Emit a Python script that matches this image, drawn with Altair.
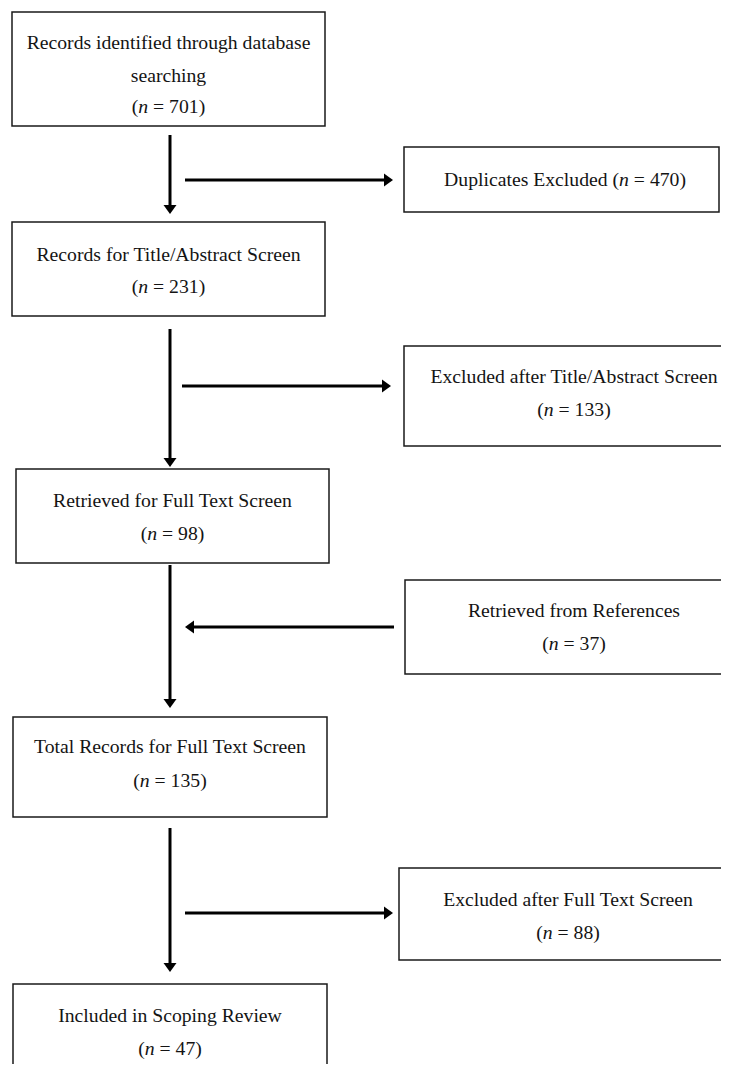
import altair as alt
import pandas as pd

# ---------------- data ----------------
left_titles = [
    ["Records identified through database", "searching"],
    ["Records for Title/Abstract Screen"],
    ["Retrieved for Full Text Screen"],
    ["Total Records for Full Text Screen"],
    ["Included in Scoping Review"],
]
left_counts = [701, 231, 98, 135, 47]

side_titles = [
    "Duplicates Excluded",
    "Excluded after Title/Abstract Screen",
    "Retrieved from References",
    "Excluded after Full Text Screen",
]
side_counts = [470, 133, 37, 88]

# ---------------- layout (reference pixel units) ----------------
left_box_x = [(12, 325), (12, 325), (16, 329), (13, 327), (13, 327)]
left_box_y = [(12, 126), (222, 316), (469, 563), (717, 817), (984, 1080)]
left_line_y = [[43, 76, 107], [255, 287], [501, 534], [747, 781], [1016, 1049]]

side_box_x = [(404, 719), (404, 745), (405, 745), (399, 745)]
side_box_y = [(147, 212), (346, 446), (580, 674), (868, 960)]
side_line_y = [[180], [377, 410], [611, 644], [900, 933]]
side_cx = [565, 574, 574, 568]

v_arrows = [(170, 135, 214), (170, 329, 467), (170, 565, 708), (170, 828, 972)]
h_arrows = [(180, 185, 393), (386, 182, 391), (627, 394, 185), (913, 185, 393)]

FONT = "Liberation Serif"
FS = 19.7
HEAD_LEN = 9
HEAD_W = 13

# Times-compatible advance widths (per 1000 em)
CW = {"(": 333, ")": 333, " ": 250, "=": 564, "D": 722, "u": 500, "p": 500,
      "l": 278, "i": 278, "c": 444, "a": 444, "t": 278, "e": 444, "s": 389,
      "E": 611, "x": 500, "d": 500, "n": 500}


def tw(s):
    return sum(CW.get(c, 500) for c in s) * FS / 1000.0


# ---------------- build tables ----------------
boxes = []
for (x0, x1), (y0, y1) in zip(left_box_x + side_box_x, left_box_y + side_box_y):
    boxes.append({"x": x0, "x2": x1, "y": y0, "y2": y1})
boxes = pd.DataFrame(boxes)

texts = []  # kind: c (center), r (right), l (left), i (italic left)


def add_nline(cx, y, pre, n):
    suf = "= %d)" % n
    gap = tw(" ")
    total = tw(pre) + tw("n") + gap + tw(suf)
    start = cx - total / 2.0
    nx = start + tw(pre)
    texts.append({"x": nx, "y": y, "t": pre, "k": "r"})
    texts.append({"x": nx, "y": y, "t": "n", "k": "i"})
    texts.append({"x": nx + tw("n") + gap, "y": y, "t": suf, "k": "l"})


for titles, n, (x0, x1), ys in zip(left_titles, left_counts, left_box_x, left_line_y):
    cx = (x0 + x1) / 2.0
    for t, y in zip(titles, ys[:-1]):
        texts.append({"x": cx, "y": y, "t": t, "k": "c"})
    add_nline(cx, ys[-1], "(", n)

for title, n, cx, ys in zip(side_titles, side_counts, side_cx, side_line_y):
    if len(ys) == 1:
        add_nline(cx, ys[0], title + " (", n)
    else:
        texts.append({"x": cx, "y": ys[0], "t": title, "k": "c"})
        add_nline(cx, ys[1], "(", n)
texts = pd.DataFrame(texts)

stems, heads = [], []
for x, y0, tip in v_arrows:
    stems.append({"x": x, "x2": x, "y": y0, "y2": tip - HEAD_LEN + 1})
    heads.append({"x": x, "y": tip - HEAD_LEN / 2.0, "d": "down"})
for y, x0, tip in h_arrows:
    sgn = 1 if tip > x0 else -1
    stems.append({"x": x0, "x2": tip - sgn * (HEAD_LEN - 1), "y": y, "y2": y})
    heads.append({"x": tip - sgn * HEAD_LEN / 2.0, "y": y, "d": "right" if sgn > 0 else "left"})
stems = pd.DataFrame(stems)
heads = pd.DataFrame(heads)

h = HEAD_LEN / HEAD_W  # half-length in unit coords (width spans -1..1)
paths = [
    "M-1,%.3fL1,%.3fL0,%.3fZ" % (-h, -h, h),
    "M%.3f,-1L%.3f,0L%.3f,1Z" % (-h, h, -h),
    "M%.3f,-1L%.3f,0L%.3f,1Z" % (h, -h, h),
]

# ---------------- scales ----------------
xs = alt.Scale(domain=[8, 721], nice=False, zero=False)
ys = alt.Scale(domain=[8, 1064], nice=False, zero=False, reverse=True)
X = lambda f: alt.X(f, scale=xs, axis=None, title=None)
Y = lambda f: alt.Y(f, scale=ys, axis=None, title=None)

box_layer = alt.Chart(boxes).mark_rect(
    fill="white", stroke="#1a1a1a", strokeWidth=1.5, clip=True
).encode(x=X("x:Q"), x2="x2:Q", y=Y("y:Q"), y2="y2:Q")

stem_layer = alt.Chart(stems).mark_rule(
    color="black", strokeWidth=3, strokeCap="butt"
).encode(x=X("x:Q"), x2="x2:Q", y=Y("y:Q"), y2="y2:Q")

head_layer = alt.Chart(heads).mark_point(
    filled=True, color="black", opacity=1, size=HEAD_W * HEAD_W
).encode(
    x=X("x:Q"), y=Y("y:Q"),
    shape=alt.Shape("d:N", legend=None, scale=alt.Scale(
        domain=["down", "right", "left"], range=paths)),
)


def text_layer(kind, align, style="normal"):
    return alt.Chart(texts[texts.k == kind]).mark_text(
        font=FONT, fontSize=FS, align=align, baseline="middle",
        fontStyle=style, color="#141414"
    ).encode(x=X("x:Q"), y=Y("y:Q"), text="t:N")


chart = alt.layer(
    box_layer, stem_layer, head_layer,
    text_layer("c", "center"), text_layer("r", "right"),
    text_layer("l", "left"), text_layer("i", "left", "italic"),
).properties(
    width=713, height=1056, padding=0, autosize=alt.AutoSizeParams(type="none")
).configure_view(strokeWidth=0)

chart.save("out.html", embed_options={"renderer": "svg", "actions": False})
